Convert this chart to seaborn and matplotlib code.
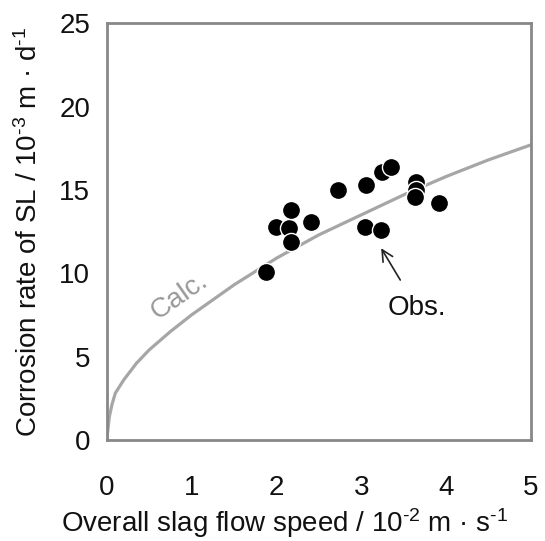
import numpy as np
import pandas as pd
import matplotlib
matplotlib.use("Agg")
import matplotlib.pyplot as plt
import seaborn as sns

obs_speed = [1.88, 1.99, 2.15, 2.17, 2.17, 2.41, 2.73, 3.05, 3.06, 3.23, 3.25, 3.35, 3.65, 3.65, 3.63, 3.92]
obs_rate = [10.1, 12.8, 12.7, 13.8, 11.9, 13.1, 15.0, 12.8, 15.3, 12.6, 16.1, 16.4, 15.5, 15.0, 14.6, 14.2]

# calculated curve
calc_speed = [0, 0.01, 0.03, 0.06, 0.1, 0.2, 0.35, 0.5, 0.75, 1.0, 1.25, 1.5, 2.0, 2.5, 3.0, 3.5, 4.0, 4.5, 5.0]
calc_rate = [0, 0.5, 1.4, 2.1, 2.8, 3.6, 4.6, 5.4, 6.5, 7.5, 8.4, 9.3, 10.9, 12.3, 13.5, 14.7, 15.8, 16.8, 17.7]

obs = pd.DataFrame({"speed": obs_speed, "rate": obs_rate})
calc = pd.DataFrame({"speed": calc_speed, "rate": calc_rate})

sns.set_style("white")
plt.rcParams["font.family"] = ["Liberation Sans", "DejaVu Sans"]
plt.rcParams["mathtext.default"] = "regular"

fs = 20
fig = plt.figure(figsize=(5.45, 5.41), dpi=100)
ax = fig.add_axes([0.196, 0.187, 0.778, 0.770])

sns.lineplot(data=calc, x="speed", y="rate", color="#a6a6a6", linewidth=2.3, ax=ax)
sns.scatterplot(data=obs, x="speed", y="rate", color="black", s=170,
                edgecolor="white", linewidth=1.0, ax=ax, zorder=3)

ax.set_xlim(0, 5)
ax.set_ylim(0, 25)
ax.set_xticks(range(0, 6))
ax.set_yticks(range(0, 26, 5))
ax.tick_params(direction="in", length=5, width=1.2, color="#333333",
               labelsize=fs, labelcolor="#111111")
ax.tick_params(axis="x", pad=25)
ax.tick_params(axis="y", pad=12)
for sp in ax.spines.values():
    sp.set_color("#888888")
    sp.set_linewidth(2)

ax.set_xlabel("Overall slag flow speed / 10$^{\u20102}$ m \u00b7 s$^{\u20101}$", fontsize=fs, color="#111111")
ax.xaxis.set_label_coords(0.42, -0.16)
ax.set_ylabel("Corrosion rate of SL / 10$^{\u20103}$ m \u00b7 d$^{\u20101}$", fontsize=fs, color="#111111")
ax.yaxis.set_label_coords(-0.15, 0.5)

ax.text(0.86, 8.6, "Calc.", color="#999999", fontsize=fs, rotation=35,
        ha="center", va="center")
ax.annotate("Obs.", xy=(3.235, 11.5), xytext=(3.66, 7.9), fontsize=fs,
            ha="center", va="center", color="#111111",
            arrowprops=dict(arrowstyle="->", color="#222222", lw=1.2,
                            shrinkA=10, shrinkB=0))

fig.savefig("out.png", dpi=100)
